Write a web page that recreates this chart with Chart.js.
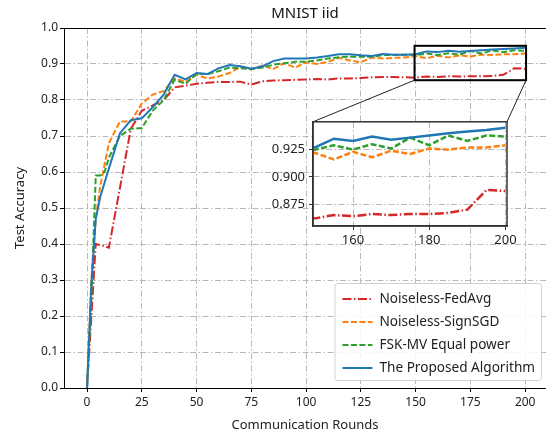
<!DOCTYPE html>
<html>
<head>
<meta charset="utf-8">
<script src="https://cdn.jsdelivr.net/npm/chart.js@4.4.0/dist/chart.umd.min.js"></script>
<style>
  body { margin: 0; background: #fff; overflow: hidden; }
  #wrap { position: relative; width: 546px; height: 438px; }
  #mainChart { position: absolute; left: 0; top: 0; }
  #insetChart { position: absolute; left: 255px; top: 110px; }
</style>
</head>
<body>
<div id="wrap">
  <canvas id="mainChart" width="546" height="438"></canvas>
  <canvas id="insetChart" width="280" height="150"></canvas>
</div>
<script>
const FONT = "'Noto Sans', sans-serif";
const _RED = '#d62728';
const _ORANGE = '#ff7f0e';
const _GREEN = '#2ca02c';
const _BLUE = '#1f77b4';
const _GRID = '#b8b8b8';

// communication rounds
const rounds = [0, 2, 4, 6, 8, 10, 15, 20, 25, 30, 35, 40, 45, 50, 55, 60, 65, 70, 75, 80, 85, 90, 95, 100,
    105, 110, 115, 120, 125, 130, 135, 140, 145, 150, 155, 160, 165, 170, 175, 180, 185, 190, 195, 200];

const fedAvg = [0, 0.2, 0.40, 0.397, 0.394, 0.39, 0.555, 0.72, 0.77, 0.785, 0.80, 0.835, 0.84, 0.845, 0.848, 0.85,
    0.85, 0.851, 0.843, 0.852, 0.854, 0.855, 0.856, 0.857, 0.858, 0.857, 0.86, 0.86, 0.861, 0.863, 0.864, 0.864,
    0.863, 0.862, 0.865, 0.864, 0.866, 0.865, 0.866, 0.866, 0.867, 0.870, 0.888, 0.887];
const signSgd = [0, 0.3, 0.47, 0.56, 0.62, 0.68, 0.74, 0.74, 0.79, 0.815, 0.825, 0.86, 0.85, 0.87, 0.86, 0.865,
    0.875, 0.892, 0.885, 0.896, 0.886, 0.902, 0.89, 0.905, 0.90, 0.906, 0.917, 0.91, 0.905, 0.918, 0.915, 0.917,
    0.918, 0.922, 0.916, 0.923, 0.918, 0.924, 0.921, 0.926, 0.925, 0.927, 0.927, 0.929];
const fskMv = [0, 0.25, 0.59, 0.59, 0.60, 0.64, 0.70, 0.72, 0.722, 0.77, 0.80, 0.856, 0.845, 0.873, 0.872, 0.88,
    0.89, 0.888, 0.886, 0.89, 0.898, 0.902, 0.906, 0.906, 0.91, 0.915, 0.919, 0.92, 0.92, 0.92, 0.925, 0.925,
    0.926, 0.925, 0.929, 0.925, 0.93, 0.926, 0.936, 0.929, 0.938, 0.933, 0.938, 0.937];
const proposed = [0, 0.29, 0.47, 0.53, 0.57, 0.61, 0.707, 0.744, 0.749, 0.78, 0.815, 0.87, 0.857, 0.875, 0.872, 0.888,
    0.897, 0.894, 0.887, 0.893, 0.908, 0.915, 0.915, 0.915, 0.918, 0.922, 0.927, 0.927, 0.924, 0.922, 0.928, 0.926,
    0.926, 0.927, 0.935, 0.933, 0.937, 0.934, 0.936, 0.938, 0.940, 0.9415, 0.943, 0.945];

const seriesNames = ['Noiseless-FedAvg', 'Noiseless-SignSGD', 'FSK-MV Equal power', 'The Proposed Algorithm'];

const xTicks = [0, 25, 50, 75, 100, 125, 150, 175, 200];
const yTicks = [0, 0.1, 0.2, 0.3, 0.4, 0.5, 0.6, 0.7, 0.8, 0.9, 1.0];
const insetXTicks = [160, 180, 200];
const insetYTicks = [0.875, 0.900, 0.925];
const insetXRange = [149.5, 200.4];
const insetYRange = [0.855, 0.9505];

Chart.defaults.font.family = FONT;
Chart.defaults.color = '#222';

function makeDatasets(lw) {
    const series = [fedAvg, signSgd, fskMv, proposed];
    const colors = [_RED, _ORANGE, _GREEN, _BLUE];
    const dashes = [[9, 2.5, 1.5, 2.5], [6, 2.5], [6, 2.5], []];
    return series.map((vals, i) => ({
        label: seriesNames[i],
        data: rounds.map((r, j) => ({x: r, y: vals[j]})),
        borderColor: colors[i],
        backgroundColor: colors[i],
        borderWidth: lw,
        borderDash: dashes[i],
        pointRadius: 0,
        tension: 0,
        fill: false,
        order: 4 - i,
        clip: 0
    }));
}

// inset chart (zoom of the last rounds)
const insetCanvas = document.getElementById('insetChart');
const insetFrame = {
    id: 'insetFrame',
    beforeDraw(chart) {
        const {ctx, chartArea: a} = chart;
        ctx.save();
        ctx.fillStyle = '#fff';
        ctx.fillRect(a.left, a.top, a.right - a.left, a.bottom - a.top);
        ctx.restore();
    },
    afterDraw(chart) {
        const {ctx, chartArea: a} = chart;
        ctx.save();
        ctx.strokeStyle = '#333';
        ctx.lineWidth = 1.5;
        ctx.strokeRect(a.left, a.top, a.right - a.left, a.bottom - a.top);
        ctx.restore();
    }
};

const insetChart = new Chart(insetCanvas, {
    type: 'line',
    data: {datasets: makeDatasets(2.5)},
    options: {
        responsive: false,
        animation: false,
        devicePixelRatio: 1,
        layout: {padding: {top: 7, right: 28, left: 0, bottom: 0}},
        plugins: {legend: {display: false}, tooltip: {enabled: false}},
        scales: {
            x: {
                type: 'linear',
                min: insetXRange[0],
                max: insetXRange[1],
                afterBuildTicks: s => { s.ticks = insetXTicks.map(v => ({value: v})); },
                afterFit: s => { s.height = 34; },
                grid: {color: _GRID, lineWidth: 1, tickLength: 4, tickColor: '#333'},
                border: {color: '#333', width: 1.5, dash: [6, 2.5, 1.5, 2.5]},
                ticks: {font: {size: 13}, padding: 2, maxRotation: 0}
            },
            y: {
                min: insetYRange[0],
                max: insetYRange[1],
                afterBuildTicks: s => { s.ticks = insetYTicks.map(v => ({value: v})); },
                afterFit: s => { s.width = 58; },
                grid: {color: _GRID, lineWidth: 1, tickLength: 4, tickColor: '#333'},
                border: {color: '#333', width: 1.5, dash: [6, 2.5, 1.5, 2.5]},
                ticks: {font: {size: 13}, padding: 4, callback: v => v.toFixed(3)}
            }
        }
    },
    plugins: [insetFrame]
});

function drawLegend(chart) {
    const {ctx, chartArea: a} = chart;
    ctx.font = '13.6px ' + FONT;
    const rowH = 23, sample = 30, gap = 7, pad = 8;
    const tw = Math.max(...seriesNames.map(n => ctx.measureText(n).width));
    const w = pad + sample + gap + tw + 6;
    const h = 16 + rowH * (seriesNames.length - 1) + 12;
    const right = a.right - 5, bottom = a.bottom - 8;
    const left = right - w, top = bottom - h;
    ctx.fillStyle = 'rgba(255,255,255,0.85)';
    ctx.strokeStyle = '#d0d0d0';
    ctx.lineWidth = 1;
    ctx.beginPath();
    ctx.roundRect(left + 0.5, top + 0.5, w, h, 3);
    ctx.fill();
    ctx.stroke();
    chart.data.datasets.forEach((ds, i) => {
        const cy = top + 16 + i * rowH;
        ctx.strokeStyle = ds.borderColor;
        ctx.lineWidth = ds.borderWidth;
        ctx.setLineDash(ds.borderDash);
        ctx.beginPath();
        ctx.moveTo(left + pad, cy);
        ctx.lineTo(left + pad + sample, cy);
        ctx.stroke();
        ctx.setLineDash([]);
        ctx.fillStyle = '#222';
        ctx.textBaseline = 'middle';
        ctx.fillText(ds.label, left + pad + sample + gap, cy);
    });
}

const mainDecor = {
    id: 'mainDecor',
    afterDraw(chart) {
        const {ctx, chartArea: a, scales: {x, y}} = chart;
        ctx.save();
        // top spine
        ctx.strokeStyle = '#000';
        ctx.lineWidth = 1;
        ctx.beginPath();
        ctx.moveTo(a.left, a.top + 0.5);
        ctx.lineTo(a.right, a.top + 0.5);
        ctx.stroke();
        // zoomed region box
        const x0 = x.getPixelForValue(insetXRange[0]), x1 = x.getPixelForValue(insetXRange[1]);
        const y0 = y.getPixelForValue(insetYRange[0]), y1 = y.getPixelForValue(insetYRange[1]);
        ctx.lineWidth = 2;
        ctx.strokeRect(x0, y1, x1 - x0, y0 - y1);
        // connectors to the inset
        const ia = insetChart.chartArea;
        const ox = insetCanvas.offsetLeft, oy = insetCanvas.offsetTop;
        ctx.lineWidth = 1;
        ctx.strokeStyle = '#222';
        ctx.beginPath();
        ctx.moveTo(x0, y0);
        ctx.lineTo(ox + ia.left, oy + ia.top);
        ctx.moveTo(x1, y0);
        ctx.lineTo(ox + ia.right, oy + ia.top);
        ctx.stroke();
        drawLegend(chart);
        ctx.restore();
    }
};

const mainChart = new Chart(document.getElementById('mainChart'), {
    type: 'line',
    data: {datasets: makeDatasets(2)},
    options: {
        responsive: false,
        animation: false,
        devicePixelRatio: 1,
        layout: {padding: 0},
        plugins: {
            title: {
                display: true,
                text: 'MNIST iid',
                fullSize: false,
                color: '#111',
                font: {size: 15, weight: 'normal'},
                padding: {top: 5, bottom: 5}
            },
            legend: {display: false},
            tooltip: {enabled: false}
        },
        scales: {
            x: {
                type: 'linear',
                min: -10.5,
                max: 209.5,
                afterBuildTicks: s => { s.ticks = xTicks.map(v => ({value: v})); },
                afterFit: s => { s.height = 50; },
                title: {display: true, text: 'Communication Rounds', font: {size: 13}, padding: {top: 0, bottom: 5}},
                grid: {color: _GRID, lineWidth: 1, tickLength: 4, tickColor: '#000'},
                border: {color: '#000', width: 1, dash: [6, 2.5, 1.5, 2.5]},
                ticks: {font: {size: 12}, padding: 3, maxRotation: 0}
            },
            y: {
                min: 0,
                max: 1,
                afterBuildTicks: s => { s.ticks = yTicks.map(v => ({value: v})); },
                afterFit: s => { s.width = 64; },
                title: {display: true, text: 'Test Accuracy', font: {size: 13}, padding: {top: 12, bottom: 0}},
                grid: {color: _GRID, lineWidth: 1, tickLength: 4, tickColor: '#000'},
                border: {color: '#000', width: 1, dash: [6, 2.5, 1.5, 2.5]},
                ticks: {font: {size: 12}, padding: 2, callback: v => v.toFixed(1)}
            }
        }
    },
    plugins: [mainDecor]
});
</script>
</body>
</html>
